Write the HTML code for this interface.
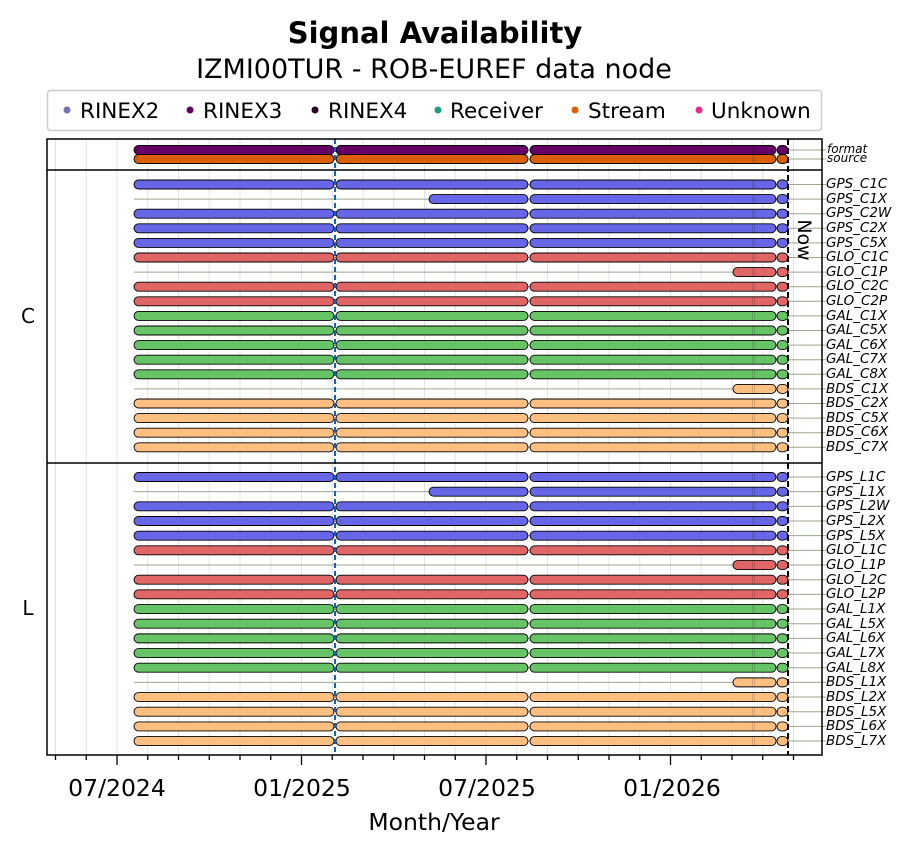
<!DOCTYPE html>
<html><head><meta charset="utf-8"><style>
body{margin:0;background:#fff}
svg{display:block;font-family:"DejaVu Sans","Liberation Sans",sans-serif}
.lab{font-size:13.5px;font-style:italic}
</style></head><body>
<svg id="s" width="914" height="854" viewBox="0 0 914 854" xmlns="http://www.w3.org/2000/svg">
<text x="435" y="43" text-anchor="middle" font-size="29" font-weight="bold">Signal Availability</text>
<text x="434" y="78" text-anchor="middle" font-size="27">IZMI00TUR - ROB-EUREF data node</text>
<rect x="47.5" y="90.5" width="774" height="40" rx="3" fill="#fff" stroke="#ccc" stroke-width="1.5"/>
<g font-size="21.5">
<circle cx="67" cy="110" r="3.5" fill="#7570b3"/><text x="80" y="118">RINEX2</text>
<circle cx="190" cy="110" r="3.5" fill="#660066"/><text x="203" y="118">RINEX3</text>
<circle cx="315" cy="110" r="3.5" fill="#26001a"/><text x="328" y="118">RINEX4</text>
<circle cx="438" cy="110" r="3.5" fill="#1b9e77"/><text x="450" y="118">Receiver</text>
<circle cx="575" cy="110" r="3.5" fill="#d95f02"/><text x="588" y="118">Stream</text>
<circle cx="699" cy="110" r="3.5" fill="#e7298a"/><text x="711" y="118">Unknown</text>
</g>
<g id="grid"></g>
<g id="bars"></g>
<line x1="335" y1="139" x2="335" y2="755" stroke="#0a64c8" stroke-width="2" stroke-dasharray="5,3"/>
<line x1="788" y1="139" x2="788" y2="755" stroke="#000" stroke-width="2" stroke-dasharray="6,3"/>
<text transform="translate(798,240) rotate(90)" text-anchor="middle" font-size="19">Now</text>
<rect x="47" y="139" width="775" height="616" fill="none" stroke="#000" stroke-width="1.5"/>
<line x1="47" y1="170" x2="822" y2="170" stroke="#000" stroke-width="1.5"/>
<line x1="47" y1="463" x2="822" y2="463" stroke="#000" stroke-width="1.5"/>
<text x="28" y="323" text-anchor="middle" font-size="20">C</text>
<text x="28" y="615" text-anchor="middle" font-size="20">L</text>
<g font-size="23.5" text-anchor="middle">
<text x="117" y="796">07/2024</text><text x="302" y="796">01/2025</text>
<text x="487" y="796">07/2025</text><text x="672" y="796">01/2026</text>
</g>
<text x="434" y="830" text-anchor="middle" font-size="23.5">Month/Year</text>
<g class="lab">
<text x="827" y="153" font-size="12">format</text><text x="827" y="162" font-size="12">source</text>
<text x="826" y="188">GPS_C1C</text><text x="826" y="203">GPS_C1X</text><text x="826" y="217">GPS_C2W</text><text x="826" y="232">GPS_C2X</text><text x="826" y="247">GPS_C5X</text><text x="826" y="261">GLO_C1C</text><text x="826" y="276">GLO_C1P</text><text x="826" y="290">GLO_C2C</text><text x="826" y="305">GLO_C2P</text><text x="826" y="320">GAL_C1X</text><text x="826" y="334">GAL_C5X</text><text x="826" y="349">GAL_C6X</text><text x="826" y="363">GAL_C7X</text><text x="826" y="378">GAL_C8X</text><text x="826" y="393">BDS_C1X</text><text x="826" y="407">BDS_C2X</text><text x="826" y="422">BDS_C5X</text><text x="826" y="436">BDS_C6X</text><text x="826" y="451">BDS_C7X</text>
<text x="826" y="481">GPS_L1C</text><text x="826" y="496">GPS_L1X</text><text x="826" y="510">GPS_L2W</text><text x="826" y="525">GPS_L2X</text><text x="826" y="540">GPS_L5X</text><text x="826" y="554">GLO_L1C</text><text x="826" y="569">GLO_L1P</text><text x="826" y="584">GLO_L2C</text><text x="826" y="598">GLO_L2P</text><text x="826" y="613">GAL_L1X</text><text x="826" y="628">GAL_L5X</text><text x="826" y="642">GAL_L6X</text><text x="826" y="657">GAL_L7X</text><text x="826" y="672">GAL_L8X</text><text x="826" y="686">BDS_L1X</text><text x="826" y="701">BDS_L2X</text><text x="826" y="716">BDS_L5X</text><text x="826" y="730">BDS_L6X</text><text x="826" y="745">BDS_L7X</text>
</g>
<script>
var NS="http://www.w3.org/2000/svg",g=document.getElementById("grid"),b=document.getElementById("bars");
function el(p,t,a){var e=document.createElementNS(NS,t);for(var k in a)e.setAttribute(k,a[k]);p.appendChild(e);return e;}
for(var i=-2;i<24;i++){var x=117+i*30.75;if(x<48||x>822)continue;
 el(g,"line",{x1:x,y1:139,x2:x,y2:755,stroke:"#e3e3e3","stroke-width":1});
 var major=(i%6==0);el(g,"line",{x1:x,y1:755,x2:x,y2:major?765:760,stroke:"#000","stroke-width":1.3});}
var F=[[134,334],[336,528],[530,776],[777,788]],
P1=[[429,528],[530,776],[777,788]],P2=[[733,776],[777,788]];
var GPS="#6666e6",GLO="#e06666",GAL="#66c466",BDS="#ffbf80";
function row(y,c,segs){el(b,"line",{x1:134,y1:y,x2:826,y2:y,stroke:"#9aa88e","stroke-width":1});
 segs.forEach(function(s){el(b,"rect",{x:s[0],y:y-4.5,width:s[1]-s[0],height:9,rx:4.5,fill:c,stroke:"#000","stroke-width":0.9});});
 [752,754].forEach(function(x){if(x>segs[0][0])el(b,"line",{x1:x+0.5,y1:y-4,x2:x+0.5,y2:y+4,stroke:"#00000040","stroke-width":0.6});});}
row(150,"#660066",F);row(159,"#d95f02",F);
var spec=[[GPS,F],[GPS,P1],[GPS,F],[GPS,F],[GPS,F],[GLO,F],[GLO,P2],[GLO,F],[GLO,F],[GAL,F],[GAL,F],[GAL,F],[GAL,F],[GAL,F],[BDS,P2],[BDS,F],[BDS,F],[BDS,F],[BDS,F]];
spec.forEach(function(s,i){row(184.5+14.6*i,s[0],s[1]);row(477+14.67*i,s[0],s[1]);});
</script>
</svg>
</body></html>
